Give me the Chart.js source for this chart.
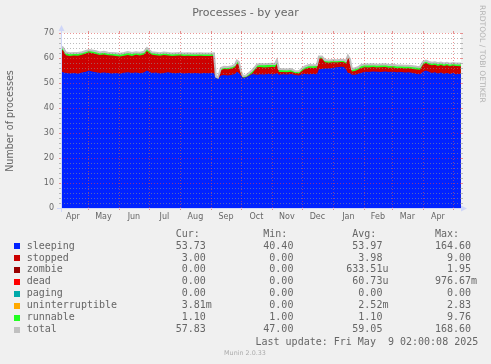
<!DOCTYPE html>
<html><head><meta charset="utf-8">
<script src="https://cdn.jsdelivr.net/npm/chart.js@4.4.1/dist/chart.umd.min.js"></script>
<style>html,body{margin:0;padding:0;background:#f0f0f0;}canvas{display:block}</style>
</head><body>
<canvas id="c" width="491" height="364"></canvas>
<script>
// x = days since 1 Apr 2024
const days = [3,5,8,12,16,20,24,28,31,34,
38,42,46,50,54,58,62,66,70,74,
78,82,86,89,91,94,98,102,106,110,
114,118,122,126,130,134,138,142,146,150,
154,156,158,160,163,166,170,174,177,179,
181,183,185,188,191,194,197,199,202,206,
210,214,217,219,221,225,229,233,237,241,
244,247,251,255,259,261,264,267,271,275,
279,283,286,288,290,292,294,297,300,303,
307,311,315,319,323,327,331,335,339,343,
347,351,355,359,362,365,368,371,374,377,
380,383,386,389,392,395,398,403];
const sleeping = [54.5,54.3,54.0,53.8,54.0,53.7,54.2,54.5,55.0,54.6,
54.3,54.0,54.2,54.0,53.8,54.0,53.7,54.1,54.3,54.0,
54.2,53.9,54.2,55.0,54.6,54.0,54.2,53.8,54.0,54.3,
54.0,53.9,54.1,53.8,54.0,53.9,54.0,53.8,54.0,53.9,
54.0,53.9,52.0,51.6,53.0,53.2,53.0,53.3,53.6,54.5,
54.0,53.0,52.0,52.2,52.8,53.5,53.5,53.3,53.5,53.4,
53.6,53.5,53.5,54.0,53.3,53.5,53.4,53.6,53.2,53.0,
53.5,53.6,53.5,53.6,53.5,55.5,55.6,55.8,55.8,56.0,
56.3,56.5,56.4,55.5,54.0,54.0,53.3,53.3,53.6,54.0,
54.5,54.4,54.6,54.5,54.4,54.6,54.4,54.5,54.3,54.4,
54.2,54.3,54.0,53.6,53.5,54.5,55.0,54.5,54.0,54.3,
53.8,54.2,53.7,54.0,53.6,54.0,53.5,53.7];
const stopped = [8.8,8.8,7.1,7.0,7.0,7.2,7.1,7.3,7.2,7.4,
7.3,7.2,7.2,7.1,7.2,6.8,6.9,6.8,6.9,6.8,
7.1,7.1,7.2,7.8,7.5,7.3,6.9,7.1,7.2,6.7,
6.8,7.0,6.9,7.0,6.9,6.9,6.8,7.1,6.8,6.9,
6.8,7.0,0.0,0.0,2.1,2.4,2.5,2.5,2.7,3.3,
3.3,0.8,0.1,0.1,0.2,0.3,1.8,3.0,2.9,2.8,
2.7,2.9,2.8,3.6,1.1,0.9,0.9,0.9,0.8,0.8,
1.3,2.0,2.6,2.4,2.6,4.3,4.2,2.5,2.3,2.3,
1.9,1.9,1.9,2.3,6.3,4.8,1.3,1.5,1.7,2.0,
1.8,1.8,1.8,1.7,1.9,1.8,1.7,1.7,1.6,1.6,
1.6,1.6,1.6,1.8,1.8,2.8,3.0,2.9,3.1,3.0,
3.0,3.0,3.1,3.1,3.1,3.0,3.3,3.0];
const zombie = [0,0,0,0,0,0,0,0,0,0, 0,0,0,0,0,0,0,0,0,0, 0,0,0,0,0,0,0,0,0,0, 0,0,0,0,0,0,0,0,0,0,
0,0,0,0,0,0,0,0,0,0, 0,0,0,0,0,0,0,0,0,0, 0,0,0,0,0,0,0,0,0,0, 0,0,0,0,0,0,0,0,0,0,
0,0,0,0,0,0,0,0,0,0, 0,0,0,0,0,0,0,0,0,0, 0,0,0,0,0,0,0,0,0,0, 0,0,0,0,0,0,0,0];
const dead = [0,0,0,0,0,0,0,0,0,0, 0,0,0,0,0,0,0,0,0,0, 0,0,0,0,0,0,0,0,0,0, 0,0,0,0,0,0,0,0,0,0,
0,0,0,0,0,0,0,0,0,0, 0,0,0,0,0,0,0,0,0,0, 0,0,0,0,0,0,0,0,0,0, 0,0,0,0,0,0,0,0,0,0,
0,0,0,0,0,0,0,0,0,0, 0,0,0,0,0,0,0,0,0,0, 0,0,0,0,0,0,0,0,0,0, 0,0,0,0,0,0,0,0];
const paging = [0,0,0,0,0,0,0,0,0,0, 0,0,0,0,0,0,0,0,0,0, 0,0,0,0,0,0,0,0,0,0, 0,0,0,0,0,0,0,0,0,0,
0,0,0,0,0,0,0,0,0,0, 0,0,0,0,0,0,0,0,0,0, 0,0,0,0,0,0,0,0,0,0, 0,0,0,0,0,0,0,0,0,0,
0,0,0,0,0,0,0,0,0,0, 0,0,0,0,0,0,0,0,0,0, 0,0,0,0,0,0,0,0,0,0, 0,0,0,0,0,0,0,0];
const uninterruptible = [0,0,0,0,0,0,0,0,0,0, 0,0,0,0,0,0,0,0,0,0, 0,0,0,0,0,0,0,0,0,0, 0,0,0,0,0,0,0,0,0,0,
0,0,0,0,0,0,0,0,0,0, 0,0,0,0,0,0,0,0,0,0, 0,0,0,0,0,0,0,0,0,0, 0,0,0,0,0,0,0,0,0,0,
0,0,0,0,0,0,0,0,0,0, 0,0,0,0,0,0,0,0,0,0, 0,0,0,0,0,0,0,0,0,0, 0,0,0,0,0,0,0,0];
const runnable = [1.3,1.1,1.1,1.1,1.0,1.1,1.0,1.0,1.0,1.0,
1.1,1.0,1.1,1.0,1.0,1.1,1.1,1.1,1.2,1.2,
1.0,1.1,1.1,1.2,1.1,1.0,1.0,1.0,1.0,1.0,
1.0,1.0,1.0,1.0,1.0,1.0,1.0,1.0,1.0,1.0,
1.0,1.0,0.6,0.6,0.9,0.9,0.9,0.9,1.0,1.2,
1.1,1.0,0.7,0.7,1.0,1.2,1.0,1.0,1.2,1.3,
1.3,1.3,1.3,1.6,1.2,1.1,1.1,1.1,0.8,0.9,
1.0,1.0,1.1,1.1,1.1,0.8,0.8,0.9,0.9,0.9,
0.9,0.9,0.9,1.0,0.7,0.8,1.0,1.1,1.0,1.1,
1.2,1.2,1.1,1.1,1.1,1.1,1.1,1.1,1.1,1.0,
1.1,1.0,1.1,1.1,1.1,1.1,1.0,1.0,1.0,1.0,
1.1,1.0,1.0,1.0,1.0,1.0,1.0,1.1];
const total = [64.6,64.2,62.2,61.9,62.0,62.0,62.3,62.8,63.2,63.0,
62.7,62.2,62.5,62.1,62.0,61.9,61.7,62.0,62.4,62.0,
62.3,62.1,62.5,64.0,63.2,62.3,62.1,61.9,62.2,62.0,
61.8,61.9,62.0,61.8,61.9,61.8,61.8,61.9,61.8,61.8,
61.8,61.9,52.6,52.2,56.0,56.5,56.4,56.7,57.3,59.0,
58.4,54.8,52.8,53.0,54.0,55.0,56.3,57.3,57.6,57.5,
57.6,57.7,57.6,59.2,55.6,55.5,55.4,55.6,54.8,54.7,
55.8,56.6,57.2,57.1,57.2,60.6,60.6,59.2,59.0,59.2,
59.1,59.3,59.2,58.8,61.0,59.6,55.6,55.9,56.3,57.1,
57.5,57.4,57.5,57.3,57.4,57.5,57.2,57.3,57.0,57.0,
56.9,56.9,56.7,56.5,56.4,58.4,59.0,58.4,58.1,58.3,
57.9,58.2,57.8,58.1,57.7,58.0,57.8,57.8];

const monthLabels = ['Apr','May','Jun','Jul','Aug','Sep','Oct','Nov','Dec','Jan','Feb','Mar','Apr'];
const monthMid = [15,45.5,76,106.5,137.5,168,198.5,229,259.5,290.5,320,349.5,380];
const monthStart = [30,61,91,122,153,183,214,244,275,306,334,365,395];
const yTicks = [0,10,20,30,40,50,60,70];

const legendNames = ['sleeping','stopped','zombie','dead','paging','uninterruptible','runnable','total'];
const legendColors = ['#0022ff','#cc0000','#990000','#ff0000','#00aaaa','#ffaa00','#22ff22','#c0c0c0'];
const curVals = ['53.73','3.00','0.00','0.00','0.00','3.81m','1.10','57.83'];
const minVals = ['40.40','0.00','0.00','0.00','0.00','0.00','1.00','47.00'];
const avgVals = ['53.97','3.98','633.51u','60.73u','0.00','2.52m','1.10','59.05'];
const maxVals = ['164.60','9.00','1.95','976.67m','0.00','2.83','9.76','168.60'];

const pts = arr => days.map((d,i)=>({x:d,y:arr[i]}));
const seriesArrays = [sleeping,stopped,zombie,dead,paging,uninterruptible,runnable];
const datasets = seriesArrays.map((arr,i)=>({
  label: legendNames[i],
  data: pts(arr),
  backgroundColor: legendColors[i],
  borderColor: 'rgba(0,0,0,0)',
  borderWidth: 0,
  fill: (arr.some(v=>v!==0)) ? 'origin' : false,
  pointRadius: 0,
  tension: 0,
  stack: 'procs'
}));
datasets.push({
  label: 'total', data: pts(total), borderColor: '#c0c0c0', borderWidth: 2,
  fill: false, pointRadius: 0, tension: 0, stack: 'total', order: -1
});

const MONO = '"DejaVu Sans Mono", monospace';
const SANS = '"DejaVu Sans", sans-serif';

const decor = {
  id: 'decor',
  beforeDraw(chart){
    const {ctx, chartArea:a} = chart;
    ctx.save();
    ctx.fillStyle = '#f0f0f0'; ctx.fillRect(0,0,chart.width,chart.height);
    ctx.fillStyle = '#ffffff'; ctx.fillRect(a.left,a.top,a.right-a.left,a.bottom-a.top);
    ctx.restore();
  },
  afterDatasetsDraw(chart){
    const {ctx, chartArea:a, scales:{x,y}} = chart;
    ctx.save();
    ctx.lineWidth = 1;
    const minorC = 'rgba(143,143,143,0.6)', majorC = 'rgba(222,79,79,0.6)';
    for (let v=0; v<=70; v+=2){
      const py = Math.round(y.getPixelForValue(v)) + 0.5;
      const major = v%10===0;
      ctx.strokeStyle = major ? majorC : minorC;
      ctx.setLineDash([]);
      ctx.beginPath(); ctx.moveTo(a.left-2,py); ctx.lineTo(a.left,py);
      ctx.moveTo(a.right,py); ctx.lineTo(a.right+2,py); ctx.stroke();
      if (v>0){ ctx.setLineDash([1,2]); ctx.beginPath(); ctx.moveTo(a.left,py); ctx.lineTo(a.right,py); ctx.stroke(); }
    }
    ctx.strokeStyle = majorC;
    monthStart.forEach(d=>{
      const px = Math.round(x.getPixelForValue(d)) + 0.5;
      ctx.setLineDash([]);
      ctx.beginPath(); ctx.moveTo(px,a.top-2); ctx.lineTo(px,a.top);
      ctx.moveTo(px,a.bottom); ctx.lineTo(px,a.bottom+2); ctx.stroke();
      ctx.setLineDash([1,2]);
      ctx.beginPath(); ctx.moveTo(px,a.top); ctx.lineTo(px,a.bottom); ctx.stroke();
    });
    ctx.setLineDash([]);
    // axes with arrows
    const ax = Math.round(a.left)+0.5, ay = Math.round(a.bottom)+0.5;
    ctx.strokeStyle = '#CFD6F8'; ctx.fillStyle = '#CFD6F8';
    ctx.beginPath(); ctx.moveTo(ax, a.bottom+4); ctx.lineTo(ax, a.top-4); ctx.stroke();
    ctx.beginPath(); ctx.moveTo(a.left-4, ay); ctx.lineTo(a.right+3, ay); ctx.stroke();
    ctx.beginPath(); ctx.moveTo(ax-3, a.top-2); ctx.lineTo(ax+3, a.top-2); ctx.lineTo(ax, a.top-8); ctx.closePath(); ctx.fill();
    ctx.beginPath(); ctx.moveTo(a.right+0, ay-3); ctx.lineTo(a.right+0, ay+3); ctx.lineTo(a.right+6, ay); ctx.closePath(); ctx.fill();
    ctx.restore();
  },
  afterDraw(chart){
    const {ctx} = chart;
    ctx.save();
    ctx.fillStyle = '#666666';
    // title
    ctx.font = '11px ' + SANS; ctx.textAlign = 'center'; ctx.textBaseline = 'alphabetic';
    ctx.fillText('Processes - by year', 245.5, 16);
    // y title
    ctx.save(); ctx.translate(10, 121); ctx.rotate(-Math.PI/2);
    ctx.font = '9.6px ' + SANS; ctx.textBaseline = 'middle'; ctx.fillText('Number of processes', 0, 0);
    ctx.restore();
    // watermark
    ctx.save(); ctx.translate(481.5, 54); ctx.rotate(Math.PI/2);
    ctx.fillStyle = 'rgba(102,102,102,0.45)';
    ctx.font = '7.6px ' + SANS; ctx.textBaseline = 'middle'; ctx.fillText('RRDTOOL / TOBI OETIKER', 0, 0);
    ctx.restore();
    ctx.fillStyle = 'rgba(102,102,102,0.5)';
    ctx.font = '6.4px ' + SANS; ctx.textBaseline = 'middle'; ctx.textAlign = 'center';
    ctx.fillText('Munin 2.0.33', 245, 353);
    // legend
    ctx.fillStyle = '#666666';
    ctx.font = '10px ' + MONO; ctx.textBaseline = 'middle'; ctx.textAlign = 'left';
    const colLeft = [175.7, 263.3, 352.3, 435];
    const colRight = [205.8, 293.4, 382.4, 471.1];
    ['Cur:','Min:','Avg:','Max:'].forEach((h,i)=>ctx.fillText(h, colLeft[i], 234.5));
    const cols = [curVals,minVals,avgVals,maxVals];
    legendNames.forEach((n,r)=>{
      const yc = 246 + r*11.95;
      ctx.fillStyle = legendColors[r];
      ctx.fillRect(14, Math.round(yc-3), 6, 6);
      ctx.fillStyle = '#666666';
      ctx.textAlign = 'left';
      ctx.fillText(n, 26.7, yc);
      cols.forEach((col,c)=>{
        const m = col[r].match(/^([\d.]+)(\D?)$/);
        const w = ctx.measureText(m[1]).width;
        ctx.fillText(col[r], colRight[c]-w, yc);
      });
    });
    ctx.fillText('Last update: Fri May  9 02:00:08 2025', 255.5, 342);
    ctx.restore();
  }
};

new Chart(document.getElementById('c'), {
  type: 'line',
  data: { datasets },
  options: {
    responsive: false, animation: false, devicePixelRatio: 1,
    layout: { padding: { top: 33, right: 30, left: 0, bottom: 0 } },
    plugins: { legend: { display: false }, title: { display: false }, tooltip: { enabled: false } },
    elements: { line: { borderWidth: 0 } },
    scales: {
      x: {
        type: 'linear', min: 403.08-400, max: 403.08,
        grid: { display: false, drawTicks: false, tickLength: 0 }, border: { display: false },
        afterBuildTicks(s){ s.ticks = monthMid.map(v=>({value:v})); },
        afterFit(s){ s.height = 156; },
        ticks: { autoSkip: false, maxRotation: 0, padding: 4, color: '#666666',
                 font: { family: 'DejaVu Sans', size: 8 },
                 callback: (v,i)=>monthLabels[i] }
      },
      y: {
        stacked: true, min: 0, max: 70,
        grid: { display: false, drawTicks: false, tickLength: 0 }, border: { display: false },
        afterBuildTicks(s){ s.ticks = yTicks.map(v=>({value:v})); },
        afterFit(s){ s.width = 61; },
        ticks: { padding: 7, color: '#666666', font: { family: 'DejaVu Sans', size: 8 } }
      }
    }
  },
  plugins: [decor]
});
</script>
</body></html>
